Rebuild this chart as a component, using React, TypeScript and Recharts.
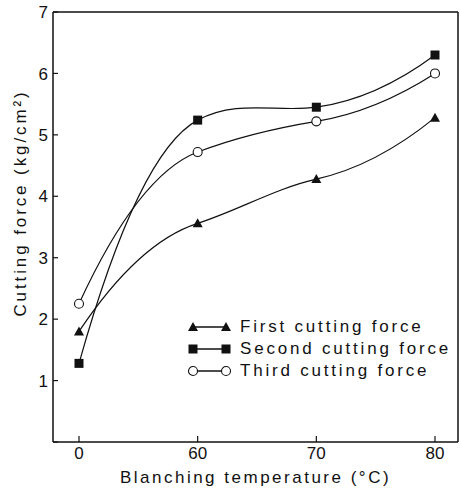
import React from "react";
import { LineChart, Line, XAxis, YAxis } from "recharts";

const temperatures = ["0", "60", "70", "80"];
const firstForce = [1.8, 3.56, 4.28, 5.28];
const secondForce = [1.28, 5.24, 5.45, 6.3];
const thirdForce = [2.25, 4.72, 5.22, 6.0];
const yTicks = [0, 1, 2, 3, 4, 5, 6, 7];

const FONT = "'Liberation Sans', Arial, sans-serif";
const INK = "#111";

const data = temperatures.map((t, i) => ({
  temp: t,
  first: firstForce[i],
  second: secondForce[i],
  third: thirdForce[i],
}));

// smooth "french curve" look: cardinal tangents inside, bent ends
function handCurve(context: any) {
  let xs: number[] = [];
  let ys: number[] = [];
  return {
    areaStart() {},
    areaEnd() {},
    lineStart() {
      xs = [];
      ys = [];
    },
    point(x: number, y: number) {
      xs.push(+x);
      ys.push(+y);
    },
    lineEnd() {
      const n = xs.length;
      if (!n) return;
      context.moveTo(xs[0], ys[0]);
      if (n === 1) return;
      if (n === 2) {
        context.lineTo(xs[1], ys[1]);
        return;
      }
      const d: number[] = [];
      for (let i = 0; i < n - 1; i++) d.push((ys[i + 1] - ys[i]) / (xs[i + 1] - xs[i]));
      const t: number[] = new Array(n).fill(0);
      for (let i = 1; i < n - 1; i++) t[i] = 0.5 * ((d[i - 1] + d[i]) / 2);
      t[0] = 2 * d[0] - t[1];
      t[n - 1] = 2 * d[n - 2] - t[n - 2];
      for (let i = 0; i < n - 1; i++) {
        const h = (xs[i + 1] - xs[i]) / 3;
        context.bezierCurveTo(
          xs[i] + h,
          ys[i] + t[i] * h,
          xs[i + 1] - h,
          ys[i + 1] - t[i + 1] * h,
          xs[i + 1],
          ys[i + 1]
        );
      }
    },
  };
}

type DotProps = { cx?: number; cy?: number; index?: number };

function TriangleDot({ cx, cy, index }: DotProps) {
  if (cx == null || cy == null) return null;
  const s = 5;
  return (
    <polygon
      key={`tri-${index}`}
      points={`${cx},${cy - s} ${cx - s},${cy + s * 0.8} ${cx + s},${cy + s * 0.8}`}
      fill={INK}
    />
  );
}

function SquareDot({ cx, cy, index }: DotProps) {
  if (cx == null || cy == null) return null;
  return <rect key={`sq-${index}`} x={cx - 4.5} y={cy - 4.5} width={9} height={9} fill={INK} />;
}

function CircleDot({ cx, cy, index }: DotProps) {
  if (cx == null || cy == null) return null;
  return <circle key={`ci-${index}`} cx={cx} cy={cy} r={4.5} fill="#fff" stroke={INK} strokeWidth={1.1} />;
}

const series = [
  { key: "first", name: "First cutting force", dot: TriangleDot },
  { key: "second", name: "Second cutting force", dot: SquareDot },
  { key: "third", name: "Third cutting force", dot: CircleDot },
];

function XTick({ x, y, payload }: any) {
  return (
    <g>
      <line x1={x} x2={x} y1={y - 4} y2={y - 10} stroke={INK} strokeWidth={1.2} />
      <text x={x} y={y + 13} textAnchor="middle" fontSize={17} fontFamily={FONT} fill={INK}>
        {payload.value}
      </text>
    </g>
  );
}

function YTick({ x, y, payload }: any) {
  return (
    <g>
      <line x1={x + 5} x2={x + 10} y1={y} y2={y} stroke={INK} strokeWidth={1.2} />
      {payload.value !== 0 && (
        <text x={x} y={y} dy="0.36em" textAnchor="end" fontSize={17} fontFamily={FONT} fill={INK}>
          {payload.value}
        </text>
      )}
    </g>
  );
}

function LegendBox() {
  return (
    <div
      style={{
        position: "absolute",
        left: 187,
        top: 316,
        fontFamily: FONT,
        fontSize: 17,
        letterSpacing: 2.8,
        color: INK,
        lineHeight: "22px",
      }}
    >
      {series.map((s) => {
        const Dot = s.dot;
        return (
          <div key={s.key} style={{ display: "flex", alignItems: "center", height: 22 }}>
            <svg width={53} height={14} style={{ flex: "none" }}>
              <line x1={6} x2={39} y1={7} y2={7} stroke={INK} strokeWidth={1.5} />
              <Dot cx={6} cy={7} />
              <Dot cx={39} cy={7} />
            </svg>
            <span style={{ whiteSpace: "nowrap" }}>{s.name}</span>
          </div>
        );
      })}
    </div>
  );
}

export default function App() {
  return (
    <div style={{ position: "absolute", left: 0, top: 0, width: 461, height: 488, background: "#fff" }}>
      <LineChart
        width={461}
        height={488}
        data={data}
        margin={{ top: 0, right: 0, bottom: 0, left: 0 }}
      >
        <XAxis
          xAxisId="main"
          dataKey="temp"
          height={46}
          padding={{ left: 26, right: 23 }}
          axisLine={{ stroke: INK, strokeWidth: 1.5 }}
          tickLine={false}
          tickSize={0}
          tickMargin={4}
          tick={<XTick />}
          label={{
            value: "Blanching temperature (°C)",
            position: "insideBottom",
            offset: 5,
            fontSize: 17,
            fontFamily: FONT,
            fill: INK,
            letterSpacing: 2.5,
          }}
        />
        <XAxis
          xAxisId="top"
          orientation="top"
          dataKey="temp"
          height={12}
          tick={false}
          tickLine={false}
          axisLine={{ stroke: INK, strokeWidth: 1.5 }}
        />
        <YAxis
          yAxisId="main"
          width={53}
          domain={[0, 7]}
          ticks={yTicks}
          interval={0}
          axisLine={{ stroke: INK, strokeWidth: 1.5 }}
          tickLine={false}
          tickSize={0}
          tickMargin={5}
          tick={<YTick />}
          label={{
            value: "Cutting force (kg/cm²)",
            angle: -90,
            position: "insideLeft",
            offset: 20,
            dy: -24,
            fontSize: 17,
            fontFamily: FONT,
            fill: INK,
            letterSpacing: 2.9,
            style: { textAnchor: "middle" },
          }}
        />
        <YAxis
          yAxisId="right"
          orientation="right"
          width={3}
          domain={[0, 7]}
          tick={false}
          tickLine={false}
          axisLine={{ stroke: INK, strokeWidth: 1.5 }}
        />
        {series.map((s) => (
          <Line
            key={s.key}
            xAxisId="main"
            yAxisId="main"
            type={handCurve as any}
            dataKey={s.key}
            name={s.name}
            stroke={INK}
            strokeWidth={1.2}
            dot={s.dot}
            activeDot={false}
            isAnimationActive={false}
          />
        ))}
      </LineChart>
      <LegendBox />
    </div>
  );
}
